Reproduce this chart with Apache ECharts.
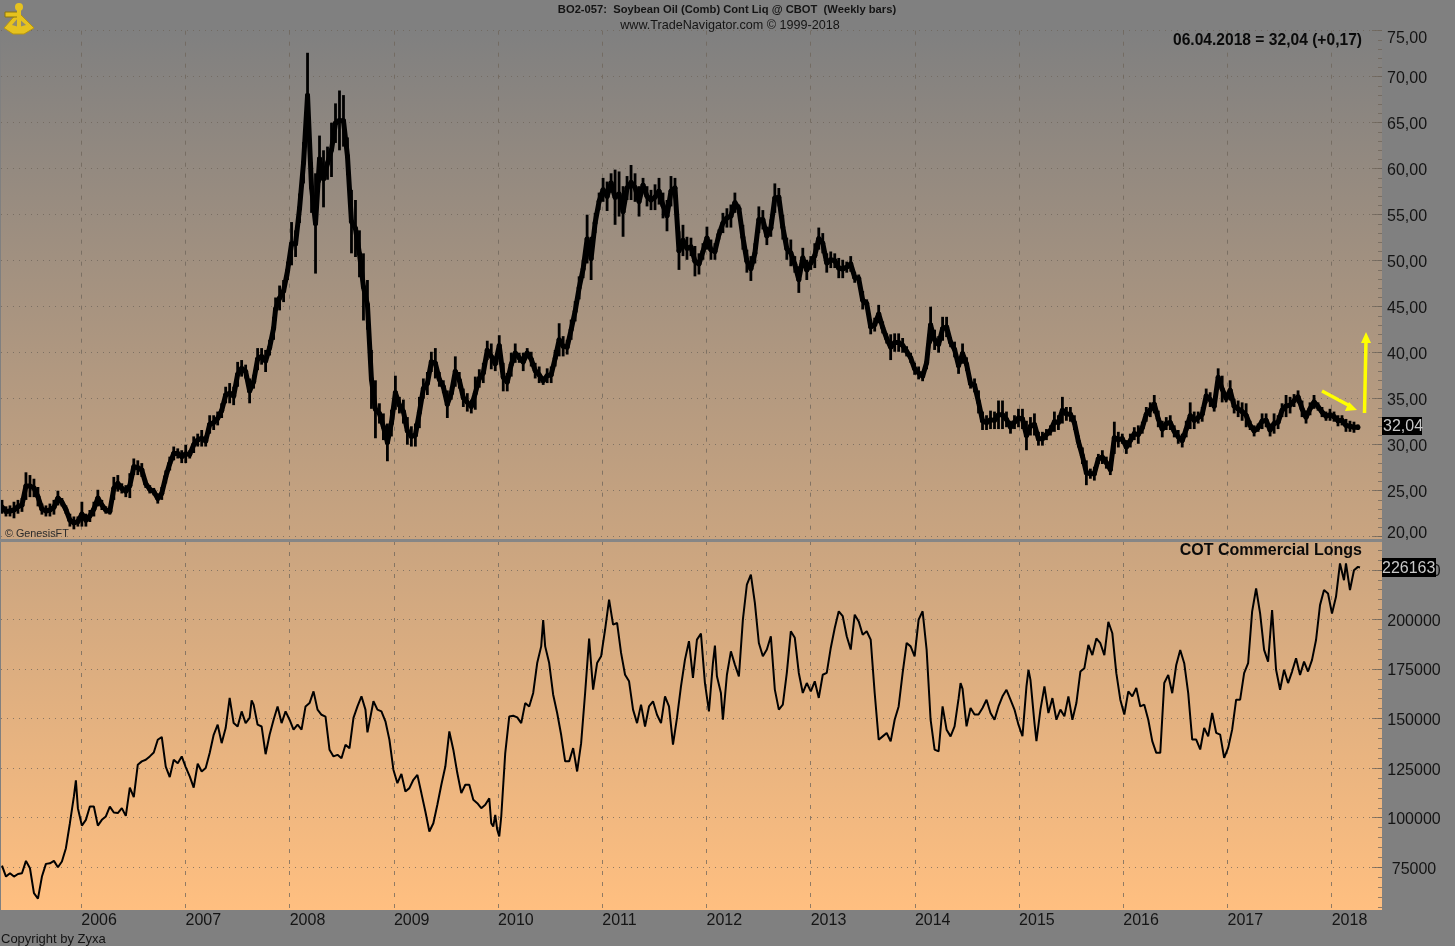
<!DOCTYPE html>
<html>
<head>
<meta charset="utf-8">
<title>BO2-057 Soybean Oil</title>
<script src="https://cdn.jsdelivr.net/npm/echarts@6/dist/echarts.min.js"></script>
<style>
  html, body { margin: 0; padding: 0; background: #808080; }
  #chart { width: 1455px; height: 946px; }
</style>
</head>
<body>
<div id="chart"></div>
<script>
// tick labels
const yearTicks = [2006, 2007, 2008, 2009, 2010, 2011, 2012, 2013, 2014, 2015, 2016, 2017, 2018]
const priceTicks = [20, 25, 30, 35, 40, 45, 50, 55, 60, 65, 70, 75]
const cotTicks = [75000, 100000, 125000, 150000, 175000, 200000, 225000]

// last values shown in the black tags
const lastPrice = 32.04
const lastCot = 226163

// soybean oil, high and low of the bars (one row = 10 bars)
const priceHigh = [
  24,23.3,23.4,23.8,24,24.2,27,26.7,26.3,25.4,
  23.6,23.4,23.6,24,25,24.2,23.4,22.5,22.2,22.2,
  23.8,22.5,22.9,23.8,25.1,24,23.3,23.1,26.5,26.7,
  25.8,25.6,26.9,28.5,28.3,28,26.2,25.6,25.3,24.7,
  25.4,27.2,28.7,29.8,29.6,29.4,30,29.4,30.9,31.2,
  31.6,31,33.2,33.2,33.6,34.5,36.3,36.7,36.3,39,
  39.2,38.7,37.2,37.6,40.5,40.5,40.3,41.4,43.9,
  46,47.3,47.9,49.9,54.2,53.3,57.3,62.9,72.6,60.7,
  59.5,63.6,62,62.4,65,67.1,68.5,68,63.4,57.7,
  56.6,53.3,50.8,47.9,40.3,37,34.5,33.4,32.3,33.8,
  37.5,35.2,34.9,33,32,32.3,35.2,37.2,37.9,40.1,
  40.5,37.9,37,35.9,36.3,39.6,37.9,36.1,35.6,34.9,
  37.4,38.2,38.9,41.3,41,39.6,41.9,38.9,37.8,40,
  41,40,40,40.5,40.1,38.9,38.5,37.4,38.3,38.5,
  40.3,43.2,41.8,41.4,43.6,45.6,48.3,50.1,55,52.6,
  55.2,57.4,59,58.6,59.5,59.9,59.7,58.1,59.2,60.4,
  59.5,58.1,59,58.1,57.7,58.3,59,57.4,56.6,59.2,
  59,53.2,53.9,52.6,52.5,51.6,50.8,51.9,53.7,52.3,
  51.9,53.4,55.2,55.7,56.1,57.4,56.1,53.9,51.2,50.5,
  51.9,55.9,55.5,53.7,54.5,58.4,57.9,55,52.5,52.3,
  50.5,49.4,51.4,50.1,50.5,51.9,53.6,53,50.8,51,
  50.8,50.3,50.1,49.9,50.5,48.8,48.5,46.7,45.8,43.6,
  43.8,45.2,43.4,42.1,42,42.1,42.1,41.6,40.7,40,
  38.9,38.5,38,39.6,45,42.5,41.8,43.9,43.9,41.7,
  41.2,39.5,41,39.5,37.2,37.2,35.9,33.6,33.2,33.7,
  33.6,34.8,34.8,33.6,32.6,33.2,33.9,33.9,32.6,33,
  33.4,31.4,31.4,31.7,32.1,33.6,33.2,35.2,34.1,34.1,
  33.2,31,29.7,28.3,27.4,27.6,29,29.4,28.7,27.9,
  32.5,31.4,31.2,30.5,31.2,31.9,32.1,32.5,34.1,34.6,
  35.4,33.7,32.6,33,33.2,32.1,31.6,31.2,32.6,34.6,
  33.6,33.6,34.1,36.1,35.7,34.8,38.3,37.5,35.5,37,
  35,34.8,34.6,34.5,32.6,32.1,32.3,33.4,33.4,32.3,
  33.4,33.2,34.5,35.4,35.2,35.5,35.9,34.8,33.7,34.6,
  35.4,34.6,34.1,33.6,33.9,33.6,33.2,33.2,32.8,32.6,
  32.5,32.2
]
const priceLow = [
  22.5,22.2,22.2,22,22.5,22.7,24,24.3,24.3,23.3,
  22.4,22.2,22.2,22.4,23.4,23.3,22.5,21.1,20.8,21.1,
  21.1,21.1,21.6,22.2,23.3,22.9,22.5,22.4,24,24.9,
  24.7,24.3,24.2,26.7,26.7,26.5,25.3,24.7,24.5,23.6,
  24,25.8,27.2,28.3,28.5,28,28,28.5,29.1,29.8,
  29.8,29.8,31.2,31.6,32.1,32.9,34.5,34.5,34.3,36.3,
  37.4,37.2,34.5,36.1,38.1,38.7,37.9,39.7,41.4,
  43.5,44.6,45.5,47.9,49.5,50.4,54.1,58.4,63.3,55.2,
  48.6,58.5,55.8,58.8,59.1,62.8,62,62.4,59.3,50.8,
  50.4,48.2,43.5,42.5,33.9,30.7,32.3,30.5,28.2,30.9,
  33.8,33.4,32.3,30,29.8,29.8,31.8,35,35.4,37.9,
  37.2,36.3,35.6,32.9,34.9,36.3,36.1,34.1,33.6,33.4,
  33.8,36.2,36.7,39.2,38.2,38,39.6,35.8,35.8,37.4,
  38.9,38.9,38,39.4,38.5,37.2,36.7,36.5,36.7,36.7,
  38.5,39.6,39.6,39.8,41.4,43.4,45.8,48.1,49.7,47.9,
  53,55.5,56.4,55.4,57.4,53.9,54.8,52.6,56.6,56.6,
  56.4,54.8,57.4,55.9,55.5,55.5,56.1,54.6,53.2,55.9,
  56.8,49,50.5,50.1,50.5,48.3,48.5,50.1,51.2,50.1,
  50.1,52.3,53,53.6,53.6,55.2,55.2,51.2,48.7,47.8,
  49.7,53,53.4,51.7,52.6,55.2,55.9,52.3,50.1,49.4,
  48.7,46.5,49.2,47.9,49,49.2,51.2,50.8,48.7,49.2,
  49.2,48.1,48.1,48.7,48.8,47.6,47.6,44.7,44.9,42,
  42.3,43.2,42.1,41,39.2,40.1,40.1,40,39.6,38.9,
  37.6,37.1,36.9,38.2,41,40.3,40,41.3,41.7,40.6,
  39.5,37.7,38.8,38,36.1,35.7,33.4,31.6,31.6,31.7,
  31.7,31.7,31.7,31.9,31.2,31.7,31.9,31.7,29.4,31,
  31,29.9,29.9,30.5,31,31.4,31.6,32.3,32.6,32.5,
  31.6,29.7,27.9,25.6,26.3,26.1,27.9,27.9,27.4,26.7,
  29,29.7,30.1,29,29.7,30.5,30.1,31.2,32.5,33,
  33.4,31.9,30.8,31.6,31.6,30.8,30.1,29.7,30.8,31.7,
  31.7,32.3,32.5,34.5,34.1,33.6,36.3,34.6,34.6,34.8,
  33.4,33,32.6,31.9,31.6,30.9,31.4,31.7,31.9,30.9,
  31.2,31.7,33,33,33.4,34.1,34.5,33,32.3,33.2,
  33.9,33.7,33,32.6,32.6,32.5,32,32.1,31.4,31.4,
  31.3,31.6
]

// COT commercial longs: week number since the first bar, value in thousands
const cotWeeks = [
  0,2,4,6,8,10,12,14,16,18,20,22,24,26,28,30,32,34,36,37,38,40,42,44,46,48,50,52,54,56,58,60,62,64,66,68,70,72,74,76,78,80,
  82,84,86,88,90,92,94,96,98,100,102,104,106,108,110,112,114,116,118,120,122,124,125,126,128,130,132,134,136,138,140,142,144,146,148,150,152,154,156,158,160,162,
  164,166,168,170,172,174,176,178,180,182,183,186,188,190,192,194,196,198,200,202,204,206,208,210,212,214,216,218,220,222,224,226,228,230,232,234,236,238,240,242,244,245,246,247,248,249,250,252,
  254,256,258,260,262,264,266,268,270,271,272,274,276,278,280,282,284,286,288,290,292,294,296,298,300,302,304,306,308,310,312,314,316,318,320,322,324,326,328,330,332,334,336,338,340,342,344,346,348,350,352,354,356,357,358,360,361,
  363,365,367,369,371,373,375,377,379,381,383,385,387,389,391,393,395,397,399,401,403,405,407,409,411,413,415,417,419,421,423,425,427,429,431,433,435,437,439,441,443,445,447,449,451,453,455,457,459,461,463,465,467,469,471,473,475,477,479,480,481,483,485,487,
  489,491,493,495,497,499,501,503,505,507,509,511,513,514,515,517,518,520,522,524,526,528,530,532,534,536,538,540,542,544,546,548,550,552,554,556,558,560,562,564,566,568,570,572,574,576,578,580,582,584,586,588,590,592,594,596,598,600,602,604,606,608,610,612,614,616,618,620,622,624,626,628,630,632,634,636,638,640,642,644,646,648,650,652,654,656,658,660,662,664,666,668,670,672,673,675,677,679,680
]
const cotThousands = [
  75.8,70.3,72,70.3,71.6,72,78.2,74.5,61.9,59.2,70.3,76.7,77,78.2,75,77.9,84.6,97.2,110.7,118.8,104.8,96,98.9,105.6,105.6,96,98.9,100.6,105.6,102.6,102.3,104.8,100.9,115.2,110.4,126.7,128.4,129.2,130.9,132.9,139.3,140.7,
  125.8,120.5,129.2,127.5,130.9,125.5,120.8,115.2,127.2,123.3,125,132.6,141.8,146.9,137.6,145.2,160.4,147.7,146,153.6,147.7,150.3,159.2,157,146.9,146,132,141.8,149.4,156.1,147.7,153.6,149.4,144.4,146.9,144.4,156.1,157.8,163.7,154.5,151.9,151,
  134.3,130.9,131.7,130,136.8,135,150.3,156.1,161.2,154.5,143,158.7,154.5,153.6,148.6,139.3,124.2,117.4,122.1,113.2,114.9,119.1,121.6,112.4,103.1,93,97.2,106.5,116.6,125.8,143.5,134.3,122.5,112.4,116.6,116.6,109,107.3,104.8,106.5,109.8,97.2,95.5,101.4,93.9,90.5,100.6,132.6,
  151,151.4,150.6,147.7,157.8,156.1,162.9,178,186.4,199.6,186.4,178,162,152.8,141.8,128.4,128.4,135.1,123.3,137.6,162.9,190.3,164.6,178,181.4,194.9,210,197.4,198.2,183.1,172.1,168.8,154.5,147.7,157,146,156.1,158.7,151.9,147.7,161.2,156.1,136.8,150.3,166.2,179.7,189,170.5,189.8,192.8,167.9,153.6,178,186.8,171.3,162.9,149.4,
  172.1,183.9,177.2,171.3,199.9,217.6,222.6,208.3,188.1,181.4,184.8,191.5,164.6,154.5,157,173,194,190.7,173,162.9,167.9,163.7,168.8,160.4,172.1,173,185.6,195.7,204.1,201.6,191.5,184.8,202.4,199,192.3,194,189.8,162.9,139.3,141,142.7,138.5,149.4,156.1,173,188.1,186.4,181.4,199.9,204.1,184.8,149.4,134.3,133.4,156.1,144.4,141,146,160,167.9,165,146.1,155.3,152,
  152,155.3,159.5,152.8,149.4,156.1,161.2,164.5,159.5,154.5,146.9,141.1,166.2,174.6,169.5,147.8,138.6,154.5,166.2,152.8,160.3,149.4,154.5,151.1,161.2,149.4,157.8,173.7,175.4,187.1,182,190.4,188,182,198.8,193,172.9,159.5,152,163.7,161.2,165.4,156.1,157,149.4,138.6,132.7,132.7,167.9,172,162.8,177,184.6,177.9,162.8,139.4,139.4,134.4,145.3,141,152.8,142.8,141.9,130.2,135.2,144.4,159.5,159.5,172.9,177.9,203.9,215.6,203,184.6,178.7,204.7,174.6,164.5,174.6,167.9,173.7,180.4,172,178.7,173.7,179.6,189.6,207.2,214.8,213.1,203,211.4,228.2,219.8,228.2,214.8,224.8,226.5,226.16
]

const FONT = '"Liberation Sans", Arial, sans-serif'
const TEXT = '#141414'
const GRID = 'rgba(110,100,90,0.75)'
const firstBar = 2005.239
const weekToYear = (w) => firstBar + w * 7 / 365.25
// bars were read two weeks apart, one week shifted after the 69th
const priceWeek = (i) => (i <= 68 ? 2 * i : 2 * i - 1)

const myChart = echarts.init(document.getElementById('chart'), null, { renderer: 'canvas' })

const priceData = priceHigh.map((h, i) => [weekToYear(priceWeek(i)), h, priceLow[i]])
const cotData = cotThousands.map((v, i) => [weekToYear(cotWeeks[i]), v * 1000])

const range = (from, to, step) => {
  const out = []
  for (let v = from; v <= to; v += step) out.push(v)
  return out
}

const xAxisBase = {
  type: 'value',
  min: 2005.2294,
  max: 2018.4827,
  axisLine: { show: false },
  axisTick: { show: false, customValues: yearTicks },
  splitLine: { show: true, lineStyle: { color: GRID, type: [4, 7], width: 1 } }
}
const yBase = {
  type: 'value',
  position: 'right',
  axisLine: { show: false },
  axisLabel: { show: false }
}
const dotted = { show: true, lineStyle: { color: GRID, type: [1, 5], width: 1 } }
// labels sit a little under their tick
const tickLabelRich = { a: { padding: [4, 0, 0, 0], fontFamily: FONT, fontSize: 16, color: TEXT } }

const option = {
  animation: false,
  backgroundColor: '#808080',
  title: [
    {
      text: 'BO2-057:  Soybean Oil (Comb) Cont Liq @ CBOT  (Weekly bars)',
      left: 722, top: -1, textAlign: 'center',
      textStyle: { fontFamily: FONT, fontSize: 11.2, fontWeight: 'bold', color: TEXT }
    },
    {
      text: 'www.TradeNavigator.com © 1999-2018',
      left: 725, top: 14, textAlign: 'center',
      textStyle: { fontFamily: FONT, fontSize: 12.6, fontWeight: 'normal', color: TEXT }
    }
  ],
  grid: [
    { left: 1, right: 73, top: 30.7, bottom: 409.3 },
    { left: 1, right: 73, top: 541, bottom: 36 }
  ],
  xAxis: [
    { ...xAxisBase, gridIndex: 0, axisLabel: { show: false } },
    {
      ...xAxisBase, gridIndex: 1,
      axisLabel: {
        show: true, customValues: yearTicks, align: 'left', margin: 3,
        fontFamily: FONT, fontSize: 16, color: TEXT,
        formatter: (v) => String(v)
      }
    }
  ],
  yAxis: [
    {
      ...yBase, gridIndex: 0, min: 20, max: 75,
      axisTick: { show: true, inside: true, length: 10, customValues: priceTicks, lineStyle: { color: GRID } },
      splitLine: dotted,
      axisLabel: {
        show: true, customValues: priceTicks.slice(1, -1), margin: 5, align: 'left',
        rich: tickLabelRich,
        formatter: (v) => '{a|' + v.toFixed(2).replace('.', ',') + '}'
      }
    },
    {
      ...yBase, gridIndex: 0, min: 20, max: 75,
      splitLine: { show: false },
      axisTick: { show: true, inside: true, length: 4, customValues: range(20, 75, 1), lineStyle: { color: GRID } }
    },
    {
      ...yBase, gridIndex: 1, min: 53434, max: 239545,
      axisTick: { show: true, inside: true, length: 10, customValues: cotTicks, lineStyle: { color: GRID } },
      splitLine: dotted,
      axisLabel: {
        show: true, customValues: cotTicks, margin: 32, align: 'center',
        rich: tickLabelRich,
        formatter: (v) => '{a|' + v + '}'
      }
    },
    {
      ...yBase, gridIndex: 1, min: 53434, max: 239545,
      splitLine: { show: false },
      axisTick: { show: true, inside: true, length: 4, customValues: range(55000, 235000, 5000), lineStyle: { color: GRID } }
    }
  ],
  series: [
    {
      type: 'custom',
      name: 'Soybean Oil',
      xAxisIndex: 0,
      yAxisIndex: 0,
      clip: false,
      data: priceData,
      encode: { x: 0, y: [1, 2] },
      renderItem: (params, api) => {
        const top = api.coord([api.value(0), api.value(1)])
        const bottom = api.coord([api.value(0), api.value(2)])
        const children = [{
          type: 'line',
          shape: { x1: top[0], y1: top[1], x2: bottom[0], y2: bottom[1] },
          style: { stroke: '#000', lineWidth: 2.8 }
        }]
        // thick body from this bar to the next one, the bars sit that close together
        const next = priceData[params.dataIndex + 1]
        if (next) {
          const a = api.coord([api.value(0), (api.value(1) + api.value(2)) / 2])
          const b = api.coord([next[0], (next[1] + next[2]) / 2])
          children.push({
            type: 'line',
            shape: { x1: a[0], y1: a[1], x2: b[0], y2: b[1] },
            style: { stroke: '#000', lineWidth: 5, lineCap: 'round' }
          })
        }
        return { type: 'group', children }
      }
    },
    {
      type: 'line',
      name: 'COT Commercial Longs',
      xAxisIndex: 1,
      yAxisIndex: 2,
      data: cotData,
      showSymbol: false,
      symbol: 'none',
      lineStyle: { color: '#000', width: 2 }
    }
  ]
}
myChart.setOption(option)

// backdrop, notes and tags
const tagY1 = myChart.convertToPixel({ yAxisIndex: 0 }, lastPrice)
const tagY2 = myChart.convertToPixel({ yAxisIndex: 2 }, lastCot)
const gold = '#E6C21E'
const axisText = (y, v) => ({
  type: 'text', z: 8,
  style: { x: 1387, y, text: v.toFixed(2).replace('.', ','), font: '16px ' + FONT, fill: TEXT, verticalAlign: 'middle' }
})
myChart.setOption({
  graphic: [
    {
      type: 'rect', z: -10, silent: true,
      shape: { x: 0, y: 32, width: 1382, height: 878 },
      style: {
        fill: new echarts.graphic.LinearGradient(0, 0, 0, 1, [
          { offset: 0, color: '#808080' },
          { offset: 1, color: '#FFBF80' }
        ])
      }
    },
    { type: 'rect', z: 5, silent: true, shape: { x: 0, y: 32, width: 1, height: 878 }, style: { fill: '#808080' } },
    { type: 'rect', z: 5, silent: true, shape: { x: 0, y: 539, width: 1382, height: 3 }, style: { fill: '#868686' } },

    // logo
    { type: 'polygon', z: 6, shape: { points: [[4, 28], [18, 12], [34, 28], [24, 34], [13, 34]] }, style: { fill: gold, stroke: '#B8960F', lineWidth: 1 } },
    { type: 'polygon', z: 6, shape: { points: [[12, 25], [18, 18], [26, 25], [19, 27]] }, style: { fill: '#8f8a70' } },
    { type: 'rect', z: 6, shape: { x: 5, y: 12, width: 13, height: 5 }, style: { fill: gold, stroke: '#8A7410', lineWidth: 1 } },
    { type: 'circle', z: 6, shape: { cx: 19, cy: 7, r: 4 }, style: { fill: gold } },
    { type: 'rect', z: 6, shape: { x: 17, y: 7, width: 4, height: 22 }, style: { fill: gold } },

    // yellow arrows
    { type: 'line', z: 7, shape: { x1: 1322, y1: 391, x2: 1350, y2: 406 }, style: { stroke: '#FFFF00', lineWidth: 3.5 } },
    { type: 'polygon', z: 7, shape: { points: [[1357, 410], [1345, 411], [1349, 402]] }, style: { fill: '#FFFF00' } },
    { type: 'line', z: 7, shape: { x1: 1364.5, y1: 413, x2: 1366, y2: 340 }, style: { stroke: '#FFFF00', lineWidth: 3.5 } },
    { type: 'polygon', z: 7, shape: { points: [[1366, 332], [1371, 343], [1361, 343]] }, style: { fill: '#FFFF00' } },

    // edge labels of the price axis sit inside the panel
    axisText(39, priceTicks[priceTicks.length - 1]),
    axisText(534, priceTicks[0]),

    // notes
    { type: 'text', z: 8, style: { x: 1362, y: 41, text: '06.04.2018 = 32,04 (+0,17)', font: 'bold 15.6px ' + FONT, fill: '#0a0a0a', align: 'right', verticalAlign: 'middle' } },
    { type: 'text', z: 8, style: { x: 1362, y: 551, text: 'COT Commercial Longs', font: 'bold 16px ' + FONT, fill: '#0a0a0a', align: 'right', verticalAlign: 'middle' } },
    { type: 'text', z: 8, style: { x: 5, y: 534, text: '© GenesisFT', font: '10.8px ' + FONT, fill: '#2a2a2a', verticalAlign: 'middle' } },
    { type: 'text', z: 8, style: { x: 1, y: 939, text: 'Copyright by Zyxa', font: '13px ' + FONT, fill: TEXT, verticalAlign: 'middle' } },

    // black last value tags
    { type: 'rect', z: 9, shape: { x: 1382, y: tagY1 - 9, width: 40, height: 18 }, style: { fill: '#000' } },
    { type: 'text', z: 10, style: { x: 1383, y: tagY1 + 1, text: lastPrice.toFixed(2).replace('.', ','), font: '16px ' + FONT, fill: '#c8c8c8', verticalAlign: 'middle' } },
    { type: 'rect', z: 9, shape: { x: 1382, y: tagY2 - 9.5, width: 54, height: 19 }, style: { fill: '#000' } },
    { type: 'text', z: 10, style: { x: 1382, y: tagY2 + 1, text: String(lastCot), font: '16px ' + FONT, fill: '#c8c8c8', verticalAlign: 'middle' } }
  ]
})
</script>
</body>
</html>
